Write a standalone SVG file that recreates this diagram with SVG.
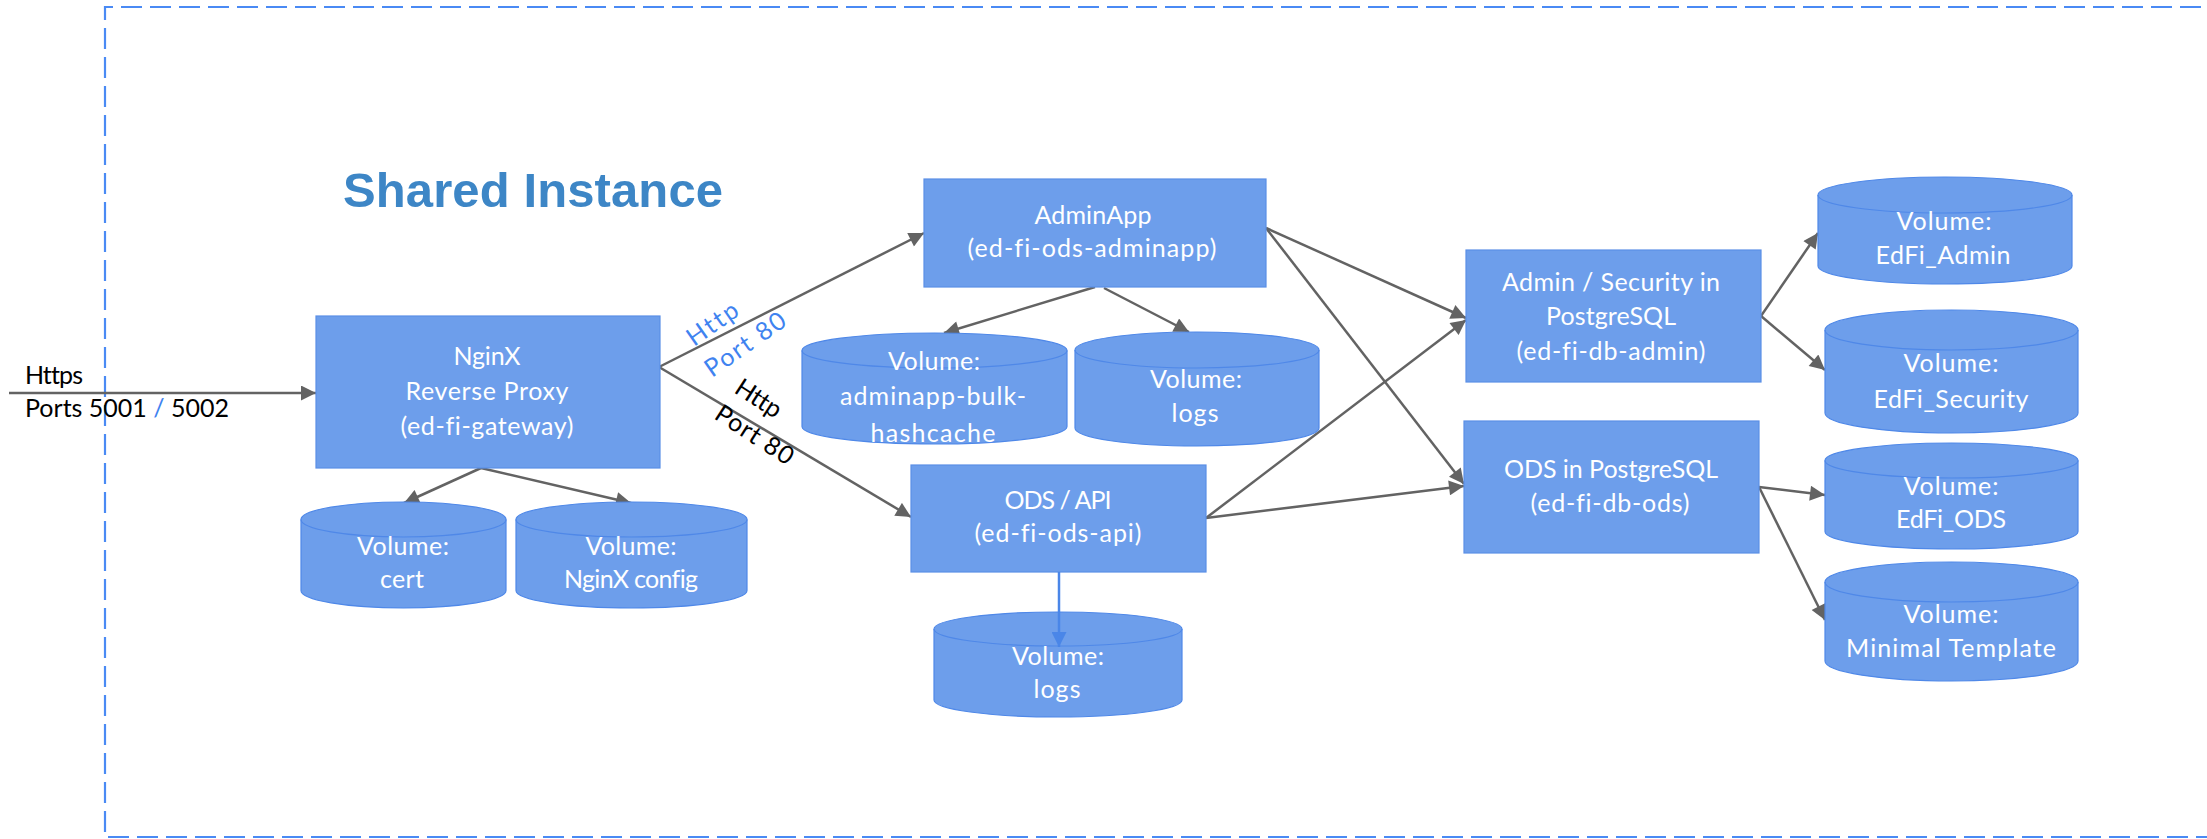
<svg xmlns="http://www.w3.org/2000/svg" width="2207" height="839" viewBox="0 0 2207 839">
<style>
text{font-variant-ligatures:none}
.box{fill:#6d9eeb;stroke:#5b8fe6;stroke-width:1.2}
.cyl{fill:#6d9eeb;stroke:#4f88e8;stroke-width:1.2}
.rim{fill:none;stroke:#4f88e8;stroke-width:1.2}
.t{font-family:Lato,"Open Sans","Liberation Sans",sans-serif;font-size:25px;fill:#ffffff;text-anchor:middle}
.k{font-family:Lato,"Open Sans","Liberation Sans",sans-serif;font-size:25px;fill:#000000}
.lb{font-family:Lato,"Open Sans","Liberation Sans",sans-serif;font-size:25px;fill:#3f83f0}
.c{fill:none;stroke:#636363;stroke-width:2.5;marker-end:url(#ah)}
.cb{fill:none;stroke:#4a86e8;stroke-width:2.5;marker-end:url(#ahb)}
.frame{fill:none;stroke:#4a8af4;stroke-width:2.2;stroke-dasharray:21 8}
</style>
<defs>
<marker id="ah" viewBox="0 0 10 10" refX="10" refY="5" markerWidth="17" markerHeight="15" markerUnits="userSpaceOnUse" orient="auto"><path d="M0,0 L10,5 L0,10 z" fill="#636363"/></marker>
<marker id="ahb" viewBox="0 0 10 10" refX="10" refY="5" markerWidth="17" markerHeight="15" markerUnits="userSpaceOnUse" orient="auto"><path d="M0,0 L10,5 L0,10 z" fill="#4a86e8"/></marker>
</defs>
<rect width="2207" height="839" fill="#ffffff"/>
<path class="frame" d="M2230,7 L105,7 L105,837 L2230,837"/>
<text x="343" y="207" textLength="380" style="font-family:'Liberation Sans',Arial,sans-serif;font-weight:bold;font-size:49px;fill:#3d86c6">Shared Instance</text>

<g id="connectors">
<path class="c" d="M9,393 L316,393"/>
<path class="c" d="M659,367 L924,233"/>
<path class="c" d="M659,367 L911,517"/>
<path class="c" d="M481,468 L404,503"/>
<path class="c" d="M481,468 L631,503"/>
<path class="c" d="M1095,287 L944,333"/>
<path class="c" d="M1104,288 L1189,332"/>
<path class="c" d="M1266,228 L1466,318"/>
<path class="c" d="M1266,228 L1464,484"/>
<path class="c" d="M1206,518 L1466,320"/>
<path class="c" d="M1206,518 L1464,486"/>
<path class="c" d="M1761,316 L1818,233"/>
<path class="c" d="M1761,316 L1825,370"/>
<path class="c" d="M1759,487 L1825,495"/>
<path class="c" d="M1759,487 L1825,620"/>
<text class="k" x="25" y="384" textLength="58">Https</text>
<text class="k" x="25" y="417" textLength="204">Ports 5001 <tspan fill="#3f83f0">/</tspan> 5002</text>
<text class="lb" transform="translate(694,347) rotate(-35)" textLength="57">Http</text>
<text class="lb" transform="translate(712,378) rotate(-35)" textLength="93">Port 80</text>
<text class="k" transform="translate(733,392) rotate(33)" textLength="50">Http</text>
<text class="k" transform="translate(713,418) rotate(33)" textLength="88">Port 80</text>
</g>

<g id="nginx">
<rect class="box" x="316" y="316" width="344" height="152"/>
<text class="t" x="487" y="365" textLength="67">NginX</text>
<text class="t" x="487" y="400" textLength="163">Reverse Proxy</text>
<text class="t" x="487" y="435" textLength="173">(ed-fi-gateway)</text>
</g>

<g id="adminapp">
<rect class="box" x="924" y="179" width="342" height="108"/>
<text class="t" x="1093" y="224" textLength="117">AdminApp</text>
<text class="t" x="1092" y="257" textLength="249">(ed-fi-ods-adminapp)</text>
</g>

<g id="odsapi">
<rect class="box" x="911" y="465" width="295" height="107"/>
<text class="t" x="1058" y="509" textLength="107">ODS / API</text>
<text class="t" x="1058" y="542" textLength="167">(ed-fi-ods-api)</text>
</g>

<g id="dbadmin">
<rect class="box" x="1466" y="250" width="295" height="132"/>
<text class="t" x="1611" y="291" textLength="218">Admin / Security in</text>
<text class="t" x="1611" y="325" textLength="130">PostgreSQL</text>
<text class="t" x="1611" y="360" textLength="189">(ed-fi-db-admin)</text>
</g>

<g id="dbods">
<rect class="box" x="1464" y="421" width="295" height="132"/>
<text class="t" x="1611" y="478" textLength="214">ODS in PostgreSQL</text>
<text class="t" x="1610" y="512" textLength="159">(ed-fi-db-ods)</text>
</g>

<g id="vol-cert">
<path class="cyl" d="M301,519.5 A102.5,17.5 0 0 1 506,519.5 L506,590.5 A102.5,17.5 0 0 1 301,590.5 Z"/>
<path class="rim" d="M301,519.5 A102.5,17.5 0 0 0 506,519.5"/>
<text class="t" x="403" y="555" textLength="92">Volume:</text>
<text class="t" x="402" y="588" textLength="44">cert</text>
</g>

<g id="vol-nginx-config">
<path class="cyl" d="M516,519.5 A115.5,17.5 0 0 1 747,519.5 L747,590.5 A115.5,17.5 0 0 1 516,590.5 Z"/>
<path class="rim" d="M516,519.5 A115.5,17.5 0 0 0 747,519.5"/>
<text class="t" x="631" y="555" textLength="91">Volume:</text>
<text class="t" x="631" y="588" textLength="134">NginX config</text>
</g>

<g id="vol-hashcache">
<path class="cyl" d="M802,350.5 A132.5,17.5 0 0 1 1067,350.5 L1067,426.5 A132.5,17.5 0 0 1 802,426.5 Z"/>
<path class="rim" d="M802,350.5 A132.5,17.5 0 0 0 1067,350.5"/>
<text class="t" x="934" y="370" textLength="92">Volume:</text>
<text class="t" x="933" y="405" textLength="186">adminapp-bulk-</text>
<text class="t" x="933" y="442" textLength="125">hashcache</text>
</g>

<g id="vol-adminapp-logs">
<path class="cyl" d="M1075,350 A122,18 0 0 1 1319,350 L1319,428 A122,18 0 0 1 1075,428 Z"/>
<path class="rim" d="M1075,350 A122,18 0 0 0 1319,350"/>
<text class="t" x="1196" y="388" textLength="92">Volume:</text>
<text class="t" x="1195" y="422" textLength="47">logs</text>
</g>

<g id="vol-api-logs">
<path class="cyl" d="M934,629 A124,17 0 0 1 1182,629 L1182,700 A124,17 0 0 1 934,700 Z"/>
<path class="rim" d="M934,629 A124,17 0 0 0 1182,629"/>
<text class="t" x="1058" y="665" textLength="92">Volume:</text>
<text class="t" x="1057" y="698" textLength="47">logs</text>
</g>

<g id="vol-edfi-admin">
<path class="cyl" d="M1818,195 A127,18 0 0 1 2072,195 L2072,266 A127,18 0 0 1 1818,266 Z"/>
<path class="rim" d="M1818,195 A127,18 0 0 0 2072,195"/>
<text class="t" x="1944" y="230" textLength="95">Volume:</text>
<text class="t" x="1943" y="264" textLength="135">EdFi_Admin</text>
</g>

<g id="vol-edfi-security">
<path class="cyl" d="M1825,330 A126.5,20 0 0 1 2078,330 L2078,413 A126.5,20 0 0 1 1825,413 Z"/>
<path class="rim" d="M1825,330 A126.5,20 0 0 0 2078,330"/>
<text class="t" x="1951" y="372" textLength="95">Volume:</text>
<text class="t" x="1951" y="408" textLength="155">EdFi_Security</text>
</g>

<g id="vol-edfi-ods">
<path class="cyl" d="M1825,460.5 A126.5,17.5 0 0 1 2078,460.5 L2078,531.5 A126.5,17.5 0 0 1 1825,531.5 Z"/>
<path class="rim" d="M1825,460.5 A126.5,17.5 0 0 0 2078,460.5"/>
<text class="t" x="1951" y="495" textLength="95">Volume:</text>
<text class="t" x="1951" y="528" textLength="110">EdFi_ODS</text>
</g>

<g id="vol-minimal-template">
<path class="cyl" d="M1825,582 A126.5,20 0 0 1 2078,582 L2078,661 A126.5,20 0 0 1 1825,661 Z"/>
<path class="rim" d="M1825,582 A126.5,20 0 0 0 2078,582"/>
<text class="t" x="1951" y="623" textLength="95">Volume:</text>
<text class="t" x="1951" y="657" textLength="210">Minimal Template</text>
</g>

<path class="cb" d="M1059,572 L1059,647"/>
</svg>
